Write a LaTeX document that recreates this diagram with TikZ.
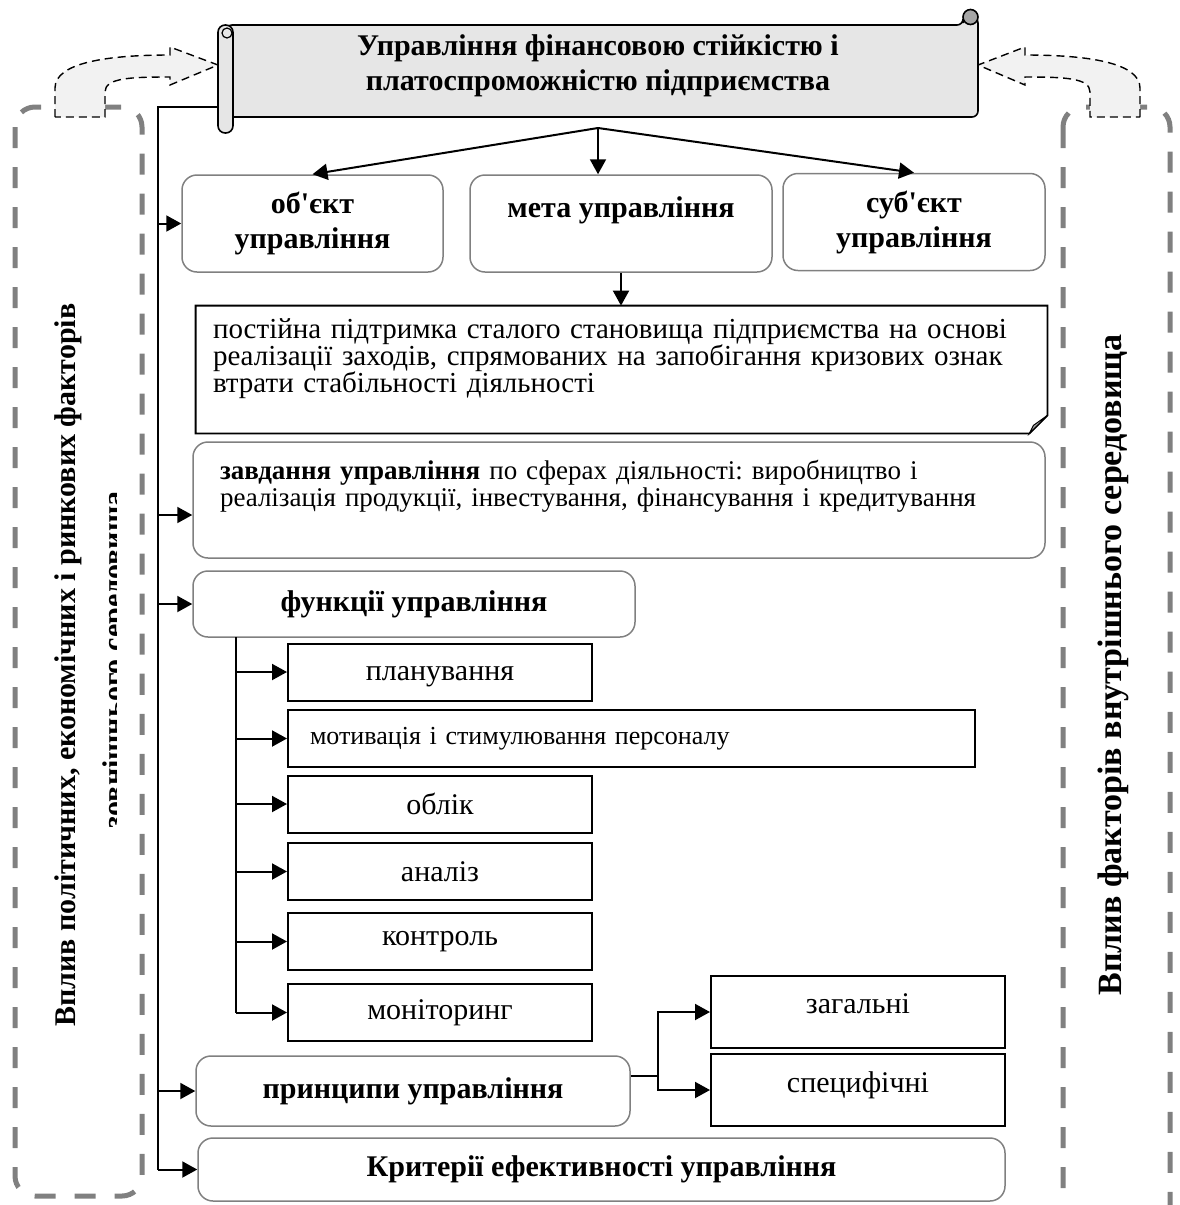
\documentclass[tikz,border=0pt]{standalone}
\usepackage{fontspec}
\setmainfont{Liberation Serif}
\usepackage{tikz}
\usetikzlibrary{arrows.meta,positioning}
\definecolor{scrollfill}{HTML}{E6E6E6}
\definecolor{curlfill}{HTML}{A6A6A6}
\definecolor{arrowfill}{HTML}{F2F2F2}
\definecolor{framegray}{HTML}{808080}
\newcommand\headfont{\fontsize{15}{17.5}\selectfont\bfseries}
\newcommand\bodyfont{\fontsize{14.5}{13.5}\selectfont}
\newcommand\taskfont{\fontsize{13.5}{13.5}\selectfont}
\newcommand\funcfont{\fontsize{15}{18}\selectfont}
\newcommand\smallfuncfont{\fontsize{13}{15}\selectfont}
\tikzstyle{roundbox}=[draw=framegray,line width=0.75pt,rounded corners=7.5pt,inner sep=0pt,align=center,font=\headfont]
\tikzstyle{funcbox}=[draw,line width=1pt,inner sep=0pt,minimum width=152pt,minimum height=28.5pt,font=\funcfont]
\tikzstyle{conn}=[-{Triangle[length=7.5pt,width=8pt]},line width=1pt]
\tikzstyle{trunkline}=[line width=1pt]
\tikzstyle{grayframe}=[draw=framegray,line width=2.5pt,dash pattern=on 10.5pt off 9.5pt,rounded corners=10pt]
\tikzstyle{bentarrow}=[draw,fill=arrowfill,line width=0.7pt,dash pattern=on 4pt off 2.5pt]
\frenchspacing

\begin{document}
\begin{tikzpicture}[x=0.5pt,y=-0.5pt]
\useasboundingbox (0,0) rectangle (1179,1205);
\clip (0,0) rectangle (1179,1205);
\draw[grayframe] (15,107) rectangle (142,1196);
\draw[grayframe] (1063,107) rectangle (1170,1225);
\path[bentarrow] (55,117) -- (55,88) .. controls (55,62) and (110,55) .. (170,55) -- (170,47) -- (218,65) -- (170,85) -- (170,77) .. controls (130,77) and (105,78) .. (105,92) -- (105,117) -- cycle;
\path[bentarrow] (1140,117) -- (1140,88) .. controls (1140,62) and (1085,55) .. (1025,55) -- (1025,47) -- (978,65) -- (1025,85) -- (1025,77) .. controls (1065,77) and (1090,78) .. (1090,92) -- (1090,117) -- cycle;
\filldraw[fill=scrollfill,line width=0.8pt,rounded corners=3pt] (226,117) -- (226,25) -- (963,25) -- (963,17) -- (978,17) -- (978,117) -- cycle;
\filldraw[fill=curlfill,line width=0.8pt] (970.5,17) circle[radius=3.75pt];
\filldraw[fill=scrollfill,line width=0.8pt,rounded corners=3.6pt] (218,25) rectangle (233,133);
\draw[line width=0.6pt] (227,33) circle[radius=2.5pt];
\node[font=\headfont,align=center] (title) at (598,65.5) {Управління фінансовою стійкістю і\\платоспроможністю підприємства};

\node[rotate=90,font=\headfont] (lefttxt) at (68,665) {Вплив політичних, економічних і ринкових факторів};
\begin{scope}
\clip (92,450) rectangle (116,850);
\node[rotate=90,font=\headfont,anchor=base] (lefttxt2) at (123.5,660) {зовнішнього середовища};
\end{scope}
\node[rotate=90,font=\fontsize{17}{20}\selectfont\bfseries] (righttxt) at (1113,665) {Вплив факторів внутрішнього середовища};

\node[roundbox,minimum width=130.5pt,minimum height=48.5pt] (obj) at (312.5,223.5) {об\textquotesingle єкт\\управління};
\node[roundbox,minimum width=151pt,minimum height=48.5pt,text depth=16pt] (meta) at (621,223.5) {мета управління};
\node[roundbox,minimum width=131pt,minimum height=48.5pt] (subj) at (914,222) {суб\textquotesingle єкт\\управління};

\node[inner xsep=8.5pt,text width=408.5pt,minimum height=63.5pt,text depth=41pt,align=left,font=\bodyfont] (goal) at (621.5,369.5) {постійна підтримка сталого становища підприємства на основі\\реалізації заходів, спрямованих на запобігання кризових ознак\\втрати стабільності діяльності};
\draw[line width=0.9pt] (goal.north west) -- (goal.north east) -- ([yshift=9pt]goal.south east) -- ([xshift=-9pt]goal.south east) -- (goal.south west) -- cycle;
\filldraw[fill=curlfill,line width=0.5pt] ([yshift=9pt]goal.south east) -- ([xshift=-9pt]goal.south east) -- ([xshift=-7pt,yshift=4pt]goal.south east) -- cycle;

\node[roundbox,font=\taskfont,align=left,text width=399pt,inner xsep=13.5pt,minimum height=58pt,text depth=30pt] (task) at (619,500) {\textbf{завдання управління} по сферах діяльності: виробництво і\\реалізація продукції, інвестування, фінансування і кредитування};
\node[roundbox,minimum width=221pt,minimum height=33pt] (func) at (414,604) {функції управління};

\node[funcbox,text height=12pt] (plan) at (440,672) {планування};
\node[funcbox,minimum width=343.5pt,text width=321.5pt,inner xsep=11pt,align=left,font=\smallfuncfont] (motiv) at (631.5,738.5) {мотивація і стимулювання персоналу};
\node[funcbox] (acc) at (440,804) {облік};
\node[funcbox] (anal) at (440,871.5) {аналіз};
\node[funcbox] (ctrl) at (440,941.5) {контроль};
\node[funcbox] (mon) at (440,1012.5) {моніторинг};

\node[funcbox,minimum width=147pt,minimum height=36pt,text depth=8pt] (gen) at (858,1012) {загальні};
\node[funcbox,minimum width=147pt,minimum height=36pt,text depth=8pt] (spec) at (858,1090) {специфічні};
\node[roundbox,minimum width=217pt,minimum height=35pt] (princ) at (413,1091) {принципи управління};
\node[roundbox,minimum width=403.5pt,minimum height=31.5pt] (crit) at (601.5,1169.5) {Критерії ефективності управління};

\coordinate (br) at (598,128);
\draw[conn] (br) -- (obj.north);
\draw[conn] (br) -- (br |- meta.north);
\draw[conn] (br) -- (subj.north);
\draw[conn] (meta.south) -- (meta.south |- goal.north);

\coordinate (rollout) at (218,107);
\coordinate (trunk) at (158,107);
\draw[trunkline] (rollout) -- (trunk) -- (trunk |- crit.west);
\foreach \n in {obj,func,princ,crit}
  \draw[conn] (trunk |- \n.west) -- (\n.west);
\draw[conn] (trunk |- 0,515) -- (task.west |- 0,515);

\coordinate (ftrunk) at (236,637);
\draw[trunkline] (ftrunk) -- (ftrunk |- mon.west);
\foreach \n in {plan,motiv,acc,anal,ctrl,mon}
  \draw[conn] (ftrunk |- \n.west) -- (\n.west);

\coordinate (pbr) at (658,1076);
\draw[trunkline] ([yshift=7.5pt]princ.east) -- (pbr);
\draw[conn] (pbr) |- (gen.west);
\draw[conn] (pbr) |- (spec.west);
\end{tikzpicture}
\end{document}
